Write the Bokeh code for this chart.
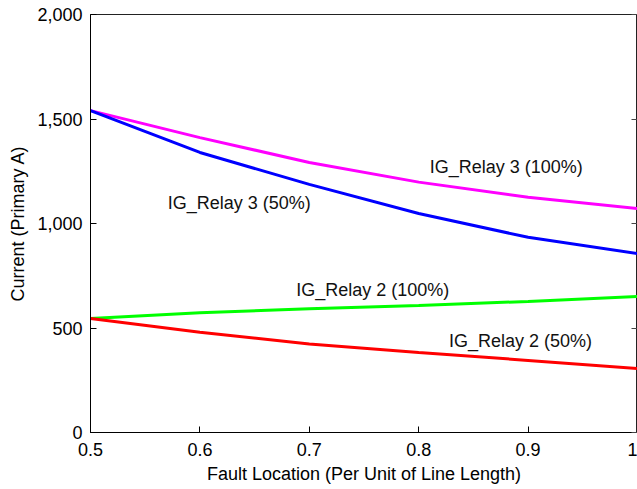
from bokeh.plotting import figure
from bokeh.models import (LinearAxis, FixedTicker, NumeralTickFormatter,
                          CustomJSTickFormatter, Range1d)
from bokeh.core.properties import value
from bokeh.embed import file_html
from bokeh.resources import INLINE

# Fault location along the line (per unit) and ground currents (primary A)
location = [0.5, 0.6, 0.7, 0.8, 0.9, 1.0]
relay3_100 = [1540, 1411, 1292, 1198, 1126, 1072]
relay3_50 = [1540, 1340, 1187, 1048, 934, 856]
relay2_100 = [545, 573, 592, 608, 627, 651]
relay2_50 = [545, 480, 424, 383, 345, 306]

x_ticks = [0.5, 0.6, 0.7, 0.8, 0.9, 1.0]
y_ticks = [0, 500, 1000, 1500, 2000]

series = [
    (relay3_100, "#FF00FF", "IG_Relay 3 (100%)", 0.880, 1268),
    (relay3_50, "#0000FF", "IG_Relay 3 (50%)", 0.636, 1096),
    (relay2_100, "#00FF00", "IG_Relay 2 (100%)", 0.758, 684),
    (relay2_50, "#FF0000", "IG_Relay 2 (50%)", 0.893, 440),
]

FONT = "Liberation Sans"
SIZE = "18px"

p = figure(width=637, height=489, output_backend="svg", toolbar_location=None,
           x_range=Range1d(0.5, 1.0), y_range=Range1d(0, 2000),
           min_border_left=90, min_border_top=14, min_border_bottom=57,
           min_border_right=0)

p.background_fill_color = "white"
p.border_fill_color = "white"
p.outline_line_color = "#222222"
p.outline_line_width = 1
p.xgrid.visible = False
p.ygrid.visible = False

for ys, color, label, lx, ly in series:
    p.line(location, ys, line_color=color, line_width=3)
    p.text(x=[lx], y=[ly], text=[label], text_align="center",
           text_baseline="middle", text_font=value(FONT),
           text_font_size=SIZE, text_color="#111111")

for ax in (p.xaxis[0], p.yaxis[0]):
    ax.major_tick_in = 6
    ax.major_tick_out = 0
    ax.minor_tick_line_color = None
    ax.axis_line_color = "black"
    ax.major_tick_line_color = "black"
    ax.major_label_text_font = FONT
    ax.major_label_text_font_size = SIZE
    ax.major_label_text_color = "black"
    ax.axis_label_text_font = FONT
    ax.axis_label_text_font_size = SIZE
    ax.axis_label_text_font_style = "normal"
    ax.axis_label_text_color = "black"

p.xaxis[0].ticker = FixedTicker(ticks=x_ticks)
p.xaxis[0].formatter = CustomJSTickFormatter(
    code="return String(Number(tick.toFixed(2)));")
p.xaxis[0].axis_label = "Fault Location (Per Unit of Line Length)"
p.xaxis[0].major_label_standoff = 10
p.xaxis[0].axis_label_standoff = 5

p.yaxis[0].ticker = FixedTicker(ticks=y_ticks)
p.yaxis[0].formatter = NumeralTickFormatter(format="0,0")
p.yaxis[0].axis_label = "Current (Primary A)"
p.yaxis[0].major_label_standoff = 8
p.yaxis[0].axis_label_standoff = 6

# Mirror ticks on the right edge of the frame, no labels
right = LinearAxis(ticker=FixedTicker(ticks=y_ticks), major_tick_in=6,
                   major_tick_out=0, minor_tick_line_color=None,
                   axis_line_color=None, major_label_standoff=0,
                   major_tick_line_color="#444444",
                   formatter=CustomJSTickFormatter(code="return '';"))
p.add_layout(right, "right")

open("out.html", "w").write(file_html(p, INLINE))
